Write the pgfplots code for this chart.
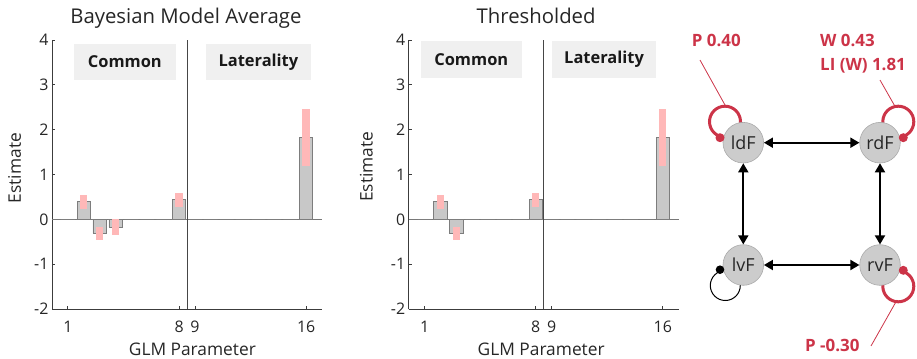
\documentclass[border=0pt]{standalone}
\usepackage{pgfplots}
\pgfplotsset{compat=1.18}
\usepackage{fontspec}
\setmainfont{Open Sans}
\usetikzlibrary{arrows.meta}
\definecolor{barfill}{RGB}{200,200,200}
\definecolor{baredge}{RGB}{125,125,125}
\definecolor{pinkc}{RGB}{255,184,184}
\definecolor{boxc}{RGB}{240,240,240}
\definecolor{axc}{RGB}{60,60,60}
\definecolor{zc}{RGB}{120,120,120}
\definecolor{vlc}{RGB}{70,70,70}
\definecolor{redc}{RGB}{204,52,72}
\definecolor{nodefill}{RGB}{204,204,204}
\definecolor{nodeedge}{RGB}{170,170,170}

\pgfplotsset{
  panel/.style={
    scale only axis, width=270bp, height=269bp,
    xmin=0, xmax=17, ymin=-2, ymax=4,
    axis x line*=bottom, axis y line*=left,
    xtick={1,8,9,16}, xticklabels={1,8,9,16},
    ytick={-2,-1,0,1,2,3,4}, yticklabels={-2,-1,0,1,2,3,4},
    tick align=inside, major tick length=3bp,
    axis line style={draw=axc, line width=0.8bp},
    every tick/.style={draw=axc, line width=0.8bp},
    tick label style={font=\fontsize{16}{19}\selectfont, text=black!85},
    xticklabel style={yshift=-8.4bp},
    label style={font=\fontsize{17.4}{20}\selectfont, text=black!85},
    xlabel={GLM Parameter}, ylabel={Estimate},
    title style={font=\fontsize{20.4}{24}\selectfont, anchor=base, yshift=10.4bp, text=black!85},
    clip=false,
  },
  bars/.style={ybar, bar width=0.84, fill=barfill, draw=baredge, line width=0.7bp, mark=none},
  ci/.style={draw=none, mark=none, forget plot,
    error bars/y dir=both, error bars/y explicit, error bars/error mark=none,
    error bars/error bar style={draw=pinkc, line width=7.3bp}},
  zl/.style={draw=zc, line width=0.8bp, mark=none},
  vl/.style={draw=vlc, line width=0.9bp, mark=none},
}
\newcommand{\boxlab}[5]{%
  \fill[boxc] (axis cs:#1,#3) rectangle (axis cs:#2,#4);
  \node[font=\fontsize{16.5}{19}\bfseries\selectfont, text=black!90] at (axis cs:{(#1+#2)/2},{(#3+#4)/2}) {#5};}

\begin{document}
\begin{tikzpicture}
\useasboundingbox (0bp,0bp) rectangle (917bp,-359bp);

% ---------- Panel 1 ----------
\begin{axis}[panel, at={(52bp,-309bp)}, anchor=south west,
  title={Bayesian Model Average}, title style={at={(0.496,1)}},
  xlabel style={at={(axis description cs:0.52,0)}, anchor=base, yshift=-46.7bp},
  ylabel style={at={(axis description cs:-0.115,0.524)}, anchor=base}]
\boxlab{1.38}{7.79}{3.11}{3.92}{Common}
\boxlab{9.70}{16.29}{3.11}{3.92}{Laterality}
\addplot[zl] coordinates {(0,0) (17,0)};
\addplot[bars] coordinates {(1,0) (2,0.40) (3,-0.31) (4,-0.17) (5,0) (6,0) (7,0) (8,0.44)
  (9,0) (10,0) (11,0) (12,0) (13,0) (14,0) (15,0) (16,1.82)};
\addplot[ci] coordinates {(2,0.395) +- (0,0.155) (3,-0.31) +- (0,0.15) (4,-0.175) +- (0,0.185)
  (8,0.43) +- (0,0.16) (16,1.825) +- (0,0.645)};
\addplot[vl] coordinates {(8.5,-2) (8.5,4)};
\end{axis}

% ---------- Panel 2 ----------
\begin{axis}[panel, at={(408.7bp,-309bp)}, anchor=south west,
  title={Thresholded}, title style={at={(0.472,1)}},
  xlabel style={at={(axis description cs:0.4906,0)}, anchor=base, yshift=-46.7bp},
  ylabel style={at={(axis description cs:-0.134,0.529)}, anchor=base}]
\boxlab{0.75}{7.13}{3.16}{3.98}{Common}
\boxlab{9.0}{15.6}{3.16}{3.98}{Laterality}
\addplot[zl] coordinates {(0,0) (17,0)};
\addplot[bars] coordinates {(1,0) (2,0.40) (3,-0.31) (4,0) (5,0) (6,0) (7,0) (8,0.44)
  (9,0) (10,0) (11,0) (12,0) (13,0) (14,0) (15,0) (16,1.82)};
\addplot[ci] coordinates {(2,0.395) +- (0,0.155) (3,-0.31) +- (0,0.15)
  (8,0.43) +- (0,0.16) (16,1.825) +- (0,0.645)};
\addplot[vl] coordinates {(8.5,-2) (8.5,4)};
\end{axis}

% ---------- Network diagram ----------
\begin{scope}[x=1bp,y=-1bp]
  % self loops (drawn under the nodes)
  \draw[redc, line width=3bp] (725,121.7) circle[radius=15.5bp];
  \draw[redc, line width=3bp] (898.3,121.7) circle[radius=15.5bp];
  \draw[redc, line width=3bp] (898.3,286.3) circle[radius=15.5bp];
  \draw[black, line width=1bp] (725.3,285.5) circle[radius=15bp];
  % nodes
  \tikzset{reg/.style={circle, fill=nodefill, draw=nodeedge, line width=0.6bp,
      minimum size=40.6bp, inner sep=0pt, font=\fontsize{18}{21}\selectfont, text=black!85}}
  \node[reg] (ldF) at (743.3,142.7) {ldF};
  \node[reg] (rdF) at (880,142.7) {rdF};
  \node[reg] (lvF) at (743.3,265) {lvF};
  \node[reg] (rvF) at (880,265) {rvF};
  % dots
  \fill[redc] (720,137.7) circle[radius=4.5bp];
  \fill[redc] (903.3,137.7) circle[radius=4.5bp];
  \fill[redc] (903.3,270.3) circle[radius=4.5bp];
  \fill[black] (720,269.7) circle[radius=4.3bp];
  % connections
  \tikzset{con/.style={{Triangle[length=9bp,width=10bp]}-{Triangle[length=9bp,width=10bp]}, line width=1.8bp, black}}
  \draw[con] (ldF) -- (rdF);
  \draw[con] (lvF) -- (rvF);
  \draw[con] (ldF) -- (lvF);
  \draw[con] (rdF) -- (rvF);
  % leader lines
  \draw[redc, line width=0.8bp] (700,60) -- (725,105);
  \draw[redc, line width=0.8bp] (880,80) -- (894.5,105.5);
  \draw[redc, line width=0.8bp] (871,346) -- (897,300);
  % labels
  \tikzset{rl/.style={font=\fontsize{17}{20}\bfseries\selectfont, text=redc, inner sep=0pt, anchor=base west}}
  \node[rl] at (691.7,46.7) {P 0.40};
  \node[rl] at (820,46.7) {W 0.43};
  \node[rl] at (820,70.5) {LI (W) 1.81};
  \node[rl] at (805,351) {P -0.30};
\end{scope}
\end{tikzpicture}
\end{document}
